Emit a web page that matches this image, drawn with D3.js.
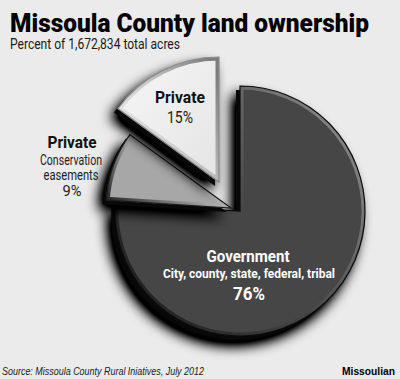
<!DOCTYPE html>
<html>
<head>
<meta charset="utf-8">
<script src="https://cdn.jsdelivr.net/npm/d3@7"></script>
<style>
  html, body { margin: 0; padding: 0; background: #ebebeb; }
  svg { display: block; }
  .narrow { font-family: Roboto, "Liberation Sans", sans-serif; }
  .plain { font-family: "Liberation Sans", Arial, sans-serif; }
</style>
</head>
<body>
<svg id="Chart"></svg>
<script>
let categories = ["Government", "Private conservation easements", "Private"]
let shares = [76, 9, 15]
let labelLines = [
    ["Government", "City, county, state, federal, tribal", "76%"],
    ["Private", "Conservation", "easements", "9%"],
    ["Private", "15%"]
]
let titleText = "Missoula County land ownership"
let subtitleText = "Percent of 1,672,834 total acres"
let sourceText = "Source: Missoula County Rural Iniatives, July 2012"
let creditText = "Missoulian"

function getConfig() {
    let width = 400
    let height = 379
    let container = d3.select("#Chart")
        .attr("width", width)
        .attr("height", height)
    // pie centre and how far each slice is pulled out of it
    let center = { x: 240, y: 211 }
    let radius = 125
    let explode = [[0, 0], [-9, -3], [-21, -29]]
    let fills = ["#464646", "#a7a7a7", "url(#privFill)"]
    let outlines = ["#0a0a0a", "#1a1a1a", "#8a8a8a"]
    let bevels = [
        ["#8e8e8e", "#464646", "#1a1a1a"],
        ["#cfcfcf", "#a7a7a7", "#2a2a2a"],
        ["#7c7c7c", "#c8c8c8", "#f4f4f4"]
    ]
    return { width, height, container, center, radius, explode, fills, outlines, bevels }
}

function drawDefs(config) {
    let defs = config.container.append("defs")

    let shadow = defs.append("filter").attr("id", "shadow")
        .attr("x", "-40%").attr("y", "-40%").attr("width", "180%").attr("height", "180%")
    shadow.append("feGaussianBlur").attr("in", "SourceAlpha").attr("stdDeviation", 7)
    shadow.append("feOffset").attr("dx", -7).attr("dy", 9)
    shadow.append("feComponentTransfer").append("feFuncA").attr("type", "linear").attr("slope", 1.6)

    let priv = defs.append("linearGradient").attr("id", "privFill")
        .attr("x1", "0%").attr("y1", "0%").attr("x2", "100%").attr("y2", "100%")
    priv.append("stop").attr("offset", "0%").attr("stop-color", "#f6f6f6")
    priv.append("stop").attr("offset", "100%").attr("stop-color", "#e4e4e4")

    config.bevels.forEach((b, i) => {
        let g = defs.append("linearGradient").attr("id", "bevel" + i)
            .attr("x1", "100%").attr("y1", "15%").attr("x2", "0%").attr("y2", "85%")
        g.append("stop").attr("offset", "0%").attr("stop-color", b[0])
        g.append("stop").attr("offset", "50%").attr("stop-color", b[1])
        g.append("stop").attr("offset", "100%").attr("stop-color", b[2])
    })
    return defs
}

function drawPie(config, defs) {
    let { container, center, radius, explode, fills, outlines } = config
    let pie = d3.pie().sort(null).value(d => d)
    let arc = d3.arc().innerRadius(0).outerRadius(radius)
    let slices = pie(shares)

    slices.forEach((s, i) => {
        let g = container.append("g")
            .attr("transform", `translate(${center.x + explode[i][0]},${center.y + explode[i][1]})`)
        let d = arc(s)

        defs.append("clipPath").attr("id", "clip" + i).append("path").attr("d", d)

        // blurred cast shadow
        g.append("path").attr("d", d).attr("fill", "#000").attr("filter", "url(#shadow)")
        // slice thickness
        g.append("path").attr("d", d).attr("fill", "#080808")
            .attr("transform", "translate(-4,4)")
        // face
        g.append("path").attr("d", d).attr("fill", fills[i])
        // inner bevel
        g.append("path").attr("d", d)
            .attr("fill", "none")
            .attr("stroke", `url(#bevel${i})`)
            .attr("stroke-width", 7)
            .attr("stroke-linejoin", "round")
            .attr("clip-path", `url(#clip${i})`)
        // thin edge, also hides the halo the clipped bevel leaves
        g.append("path").attr("d", d)
            .attr("fill", "none")
            .attr("stroke", outlines[i])
            .attr("stroke-width", 1.2)
    })
}

function addText(container, t) {
    let el = container.append("text")
        .attr("class", t.cls || "narrow")
        .attr("x", t.x).attr("y", t.y)
        .attr("font-size", t.size)
        .attr("font-weight", t.weight || "normal")
        .attr("font-style", t.italic ? "italic" : "normal")
        .attr("fill", t.color)
        .attr("text-anchor", t.anchor || "middle")
        .text(t.text)
    if (t.len) el.attr("textLength", t.len).attr("lengthAdjust", "spacingAndGlyphs")
    return el
}

function drawLabels(config) {
    let c = config.container
    // government, centred in the big slice
    let gov = labelLines[0]
    addText(c, { text: gov[0], x: 248, y: 262, size: 16.5, weight: 700, color: "#fff", len: 83 })
    addText(c, { text: gov[1], x: 249, y: 278, size: 13, weight: 700, color: "#fff", len: 172 })
    addText(c, { text: gov[2], x: 249, y: 300, size: 18.5, weight: 700, color: "#fff", len: 32 })
    // conservation easements, outside the slice on the left
    let cons = labelLines[1]
    addText(c, { text: cons[0], x: 72, y: 148, size: 16.5, weight: 700, color: "#111", len: 49 })
    addText(c, { text: cons[1], x: 71, y: 165, size: 14, color: "#222", len: 62 })
    addText(c, { text: cons[2], x: 71, y: 180, size: 14, color: "#222", len: 55 })
    addText(c, { text: cons[3], x: 72, y: 196, size: 15, color: "#222", len: 19 })
    // private, inside the pulled-out slice
    let priv = labelLines[2]
    addText(c, { text: priv[0], x: 180, y: 103, size: 16.5, weight: 700, color: "#111", len: 50 })
    addText(c, { text: priv[1], x: 180, y: 123, size: 16, color: "#222", len: 26 })
}

function drawTitles(config) {
    let c = config.container
    addText(c, { text: titleText, x: 10, y: 32, size: 26, weight: 900, color: "#000", anchor: "start", len: 359 })
    addText(c, { text: subtitleText, x: 10, y: 49, size: 14, color: "#1a1a1a", anchor: "start", len: 170 })
    addText(c, { text: sourceText, x: 2, y: 375, size: 11, italic: true, color: "#1a1a1a", anchor: "start",
        len: 202, cls: "plain" })
    addText(c, { text: creditText, x: 395, y: 375, size: 11, weight: 700, color: "#000", anchor: "end",
        len: 53, cls: "plain" })
}

function showChart() {
    let config = getConfig()
    config.container.append("rect")
        .attr("width", config.width).attr("height", config.height).attr("fill", "#ebebeb")
    let defs = drawDefs(config)
    drawPie(config, defs)
    drawLabels(config)
    drawTitles(config)
}

showChart()
</script>
</body>
</html>
